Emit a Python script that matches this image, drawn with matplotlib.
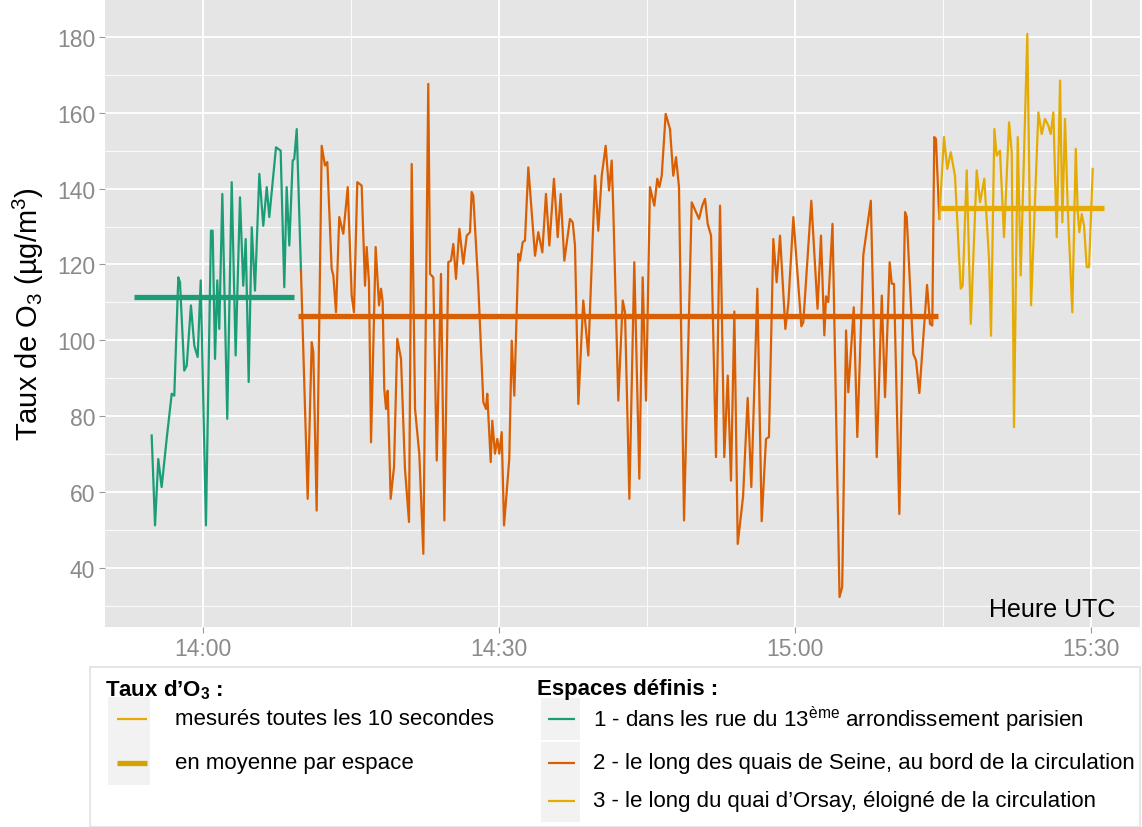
# %% Imports

import numpy as np
import matplotlib
matplotlib.use("Agg")
import matplotlib.pyplot as plt
from matplotlib.lines import Line2D
from matplotlib.patches import Rectangle

plt.rcParams["font.family"] = ["Liberation Sans", "DejaVu Sans"]
plt.rcParams["mathtext.fontset"] = "custom"
plt.rcParams["mathtext.rm"] = "Liberation Sans"
plt.rcParams["mathtext.it"] = "Liberation Sans:italic"
plt.rcParams["mathtext.bf"] = "Liberation Sans:bold"

# %% Data (time = minutes after 14:00 UTC, O3 in µg/m3)

# space 1 - rues du 13eme
t_rue = [-5.20, -4.86, -4.53, -4.19, -3.68, -3.17, -2.91, -2.50, -2.33, -1.90,
         -1.65, -1.22, -0.88, -0.54, -0.23, 0.30, 0.81, 0.98, 1.22, 1.45,
         1.65, 1.96, 2.46, 2.91, 3.31, 3.75, 4.08, 4.33, 4.63, 4.94,
         5.27, 5.71, 6.11, 6.46, 6.72, 7.40, 7.87, 8.24, 8.48, 8.75,
         9.09, 9.25, 9.50, 9.93]
o3_rue = [74.9, 51.2, 68.7, 61.3, 74.0, 85.9, 85.4, 116.6, 115.3, 92.0,
          93.3, 109.2, 98.6, 95.6, 115.8, 51.2, 128.9, 128.9, 95.1, 115.8,
          103.0, 138.6, 79.3, 141.7, 96.0, 137.7, 114.4, 126.7, 89.0, 129.8,
          113.1, 143.9, 130.2, 140.4, 132.5, 150.9, 150.0, 114.0, 140.4, 125.0,
          147.4, 147.8, 155.7, 118.3]

# space 2 - quais de Seine
t_quais = [9.93, 10.61, 11.02, 11.18, 11.52, 12.03, 12.36, 12.60, 13.04, 13.21,
           13.48, 13.81, 14.22, 14.67, 15.07, 15.30, 15.64, 16.08, 16.42, 16.59,
           16.82, 17.03, 17.50, 17.84, 18.04, 18.21, 18.37, 18.55, 18.72, 19.02,
           19.36, 19.69, 20.07, 20.47, 20.88, 21.15, 21.49, 21.92, 22.33, 22.83,
           23.01, 23.34, 23.69, 24.12, 24.46, 24.86, 25.13, 25.37, 25.64, 25.98,
           26.38, 26.73, 27.06, 27.23, 27.39, 27.90, 28.41, 28.68, 28.81, 29.16,
           29.32, 29.59, 29.83, 30.03, 30.27, 30.51, 31.04, 31.29, 31.55, 31.96,
           32.13, 32.40, 32.63, 32.97, 33.65, 33.98, 34.39, 34.76, 35.10, 35.57,
           35.95, 36.25, 36.62, 37.19, 37.47, 37.70, 38.04, 38.54, 39.05, 39.73,
           40.06, 40.41, 40.81, 41.15, 41.42, 41.58, 42.09, 42.54, 42.77, 43.21,
           43.71, 44.22, 44.56, 44.90, 45.30, 45.74, 46.04, 46.25, 46.49, 46.89,
           47.33, 47.66, 47.94, 48.24, 48.75, 49.53, 50.27, 50.60, 50.88, 51.15,
           51.49, 51.99, 52.40, 52.83, 53.18, 53.51, 53.85, 54.19, 54.73, 55.20,
           55.57, 56.18, 56.62, 57.06, 57.36, 57.80, 58.14, 58.48, 59.02, 59.32,
           59.83, 60.64, 60.84, 61.65, 62.28, 62.63, 62.97, 63.14, 63.37, 63.80,
           64.51, 64.78, 65.17, 65.40, 65.95, 66.31, 66.92, 67.68, 68.28, 68.79,
           69.12, 69.59, 69.80, 70.03, 70.57, 71.15, 71.32, 71.99, 72.26, 72.60,
           73.38, 73.68, 73.91, 74.11, 74.28, 74.62]
o3_quais = [118.3, 58.2, 99.5, 96.9, 55.1, 151.3, 146.1, 147.0, 118.8, 117.1,
            107.4, 132.5, 128.1, 140.4, 111.8, 107.4, 141.7, 140.8, 114.4, 124.6,
            115.3, 73.1, 124.6, 109.2, 113.6, 110.1, 87.2, 81.9, 86.7, 58.2,
            66.6, 100.4, 95.1, 66.1, 52.1, 146.5, 81.9, 70.1, 43.7, 167.6,
            117.5, 116.6, 68.3, 117.5, 52.5, 120.6, 121.0, 125.4, 116.2, 129.4,
            120.2, 127.6, 128.5, 139.1, 138.2, 114.4, 83.7, 81.9, 85.9, 67.9,
            78.8, 70.1, 74.0, 70.1, 75.8, 51.2, 68.7, 99.9, 85.4, 122.8,
            121.0, 125.9, 126.3, 145.6, 122.3, 128.5, 123.2, 138.6, 125.0, 142.6,
            127.2, 138.6, 121.0, 132.0, 131.1, 125.0, 83.2, 110.5, 96.0, 143.4,
            128.9, 143.4, 151.3, 139.5, 147.4, 134.7, 84.1, 110.5, 107.4, 58.2,
            120.6, 63.5, 116.6, 84.1, 140.4, 135.5, 142.6, 140.4, 143.4, 159.7,
            155.7, 143.4, 148.3, 140.4, 52.5, 136.4, 132.0, 135.5, 137.3, 130.7,
            127.6, 69.2, 135.5, 69.2, 90.7, 63.0, 107.6, 46.3, 58.7, 84.8,
            61.3, 113.6, 52.3, 74.0, 74.5, 126.7, 115.3, 127.6, 103.0, 109.6,
            132.5, 103.7, 104.8, 136.8, 108.3, 127.6, 101.3, 111.6, 110.1, 130.7,
            32.3, 35.0, 102.6, 86.3, 108.7, 74.5, 122.5, 136.8, 69.2, 111.8,
            85.0, 120.6, 114.9, 114.9, 54.2, 133.8, 132.5, 96.4, 94.7, 86.1,
            114.6, 104.3, 103.9, 153.6, 153.1, 132.0]

# space 3 - quai d'Orsay
t_orsay = [74.62, 75.10, 75.43, 75.78, 76.21, 76.79, 76.99, 77.40, 77.81, 78.41,
           78.75, 79.18, 79.66, 79.86, 80.20, 80.44, 80.77, 81.18, 81.69, 81.96,
           82.19, 82.57, 82.87, 83.54, 83.92, 84.66, 85.00, 85.33, 85.67, 85.91,
           86.18, 86.52, 86.86, 87.09, 87.36, 87.64, 88.10, 88.45, 88.65, 88.81,
           89.06, 89.29, 89.56, 89.80, 89.93, 90.17]
o3_orsay = [132.0, 153.6, 145.2, 149.6, 143.4, 113.6, 114.4, 144.8, 104.3, 144.8,
            136.4, 142.6, 121.5, 101.2, 155.7, 148.7, 150.0, 127.2, 157.5, 149.6,
            77.1, 153.6, 117.1, 180.8, 109.2, 160.1, 154.4, 158.4, 156.6, 154.4,
            160.1, 127.2, 168.5, 131.1, 158.4, 134.7, 107.4, 150.5, 133.8, 128.5,
            133.3, 130.2, 119.3, 119.3, 128.5, 145.2]

# mean per space and time span of each space
mean_o3 = [111.4, 106.5, 134.8]
mean_start = [-7.0, 9.66, 74.7]
mean_end = [9.25, 74.5, 91.3]

colors = ["#1B9E77", "#D95F02", "#E6AB02"]

labels_space = ["1 - dans les rue du 13$^{\\mathrm{ème}}$ arrondissement parisien",
                "2 - le long des quais de Seine, au bord de la circulation",
                "3 - le long du quai d’Orsay, éloigné de la circulation"]
labels_o3 = ["mesurés toutes les 10 secondes", "en moyenne par espace"]

tick_pos = [0, 30, 60, 90]
tick_lab = ["14:00", "14:30", "15:00", "15:30"]

# %% Figure

W, H = 1142, 828
fig = plt.figure(figsize=(W / 100, H / 100), dpi=100)

def fx(x):
    return x / W

def fy(y):
    return 1 - y / H

ax = fig.add_axes([fx(105), fy(628), fx(1140) - fx(105), fy(0) - fy(628)])
ax.set_facecolor("#E5E5E5")
for s in ax.spines.values():
    s.set_visible(False)

series = [(t_rue, o3_rue), (t_quais, o3_quais), (t_orsay, o3_orsay)]
for (t, v), c in zip(series, colors):
    ax.plot(t, v, color=c, lw=1.6, zorder=3)

for m, a, b, c in zip(mean_o3, mean_start, mean_end, colors):
    ax.plot([a, b], [m, m], color=c, lw=3.8, solid_capstyle="butt", zorder=4)

ax.set_xticks(tick_pos)
ax.set_xticklabels(tick_lab)
ax.set_xticks([-15, 15, 45, 75], minor=True)
ax.set_yticks(np.arange(40, 181, 20))
ax.set_yticks(np.arange(30, 191, 20), minor=True)

# limits after ticks, otherwise the minor ticks widen the view
ax.set_xlim(-9.93, 94.96)
ax.set_ylim(24.4, 190)

ax.grid(which="major", color="white", lw=1.3, zorder=0)
ax.grid(which="minor", color="white", lw=0.6, zorder=0)
ax.set_axisbelow(True)

ax.tick_params(which="major", length=4, color="#9A9A9A", labelcolor="#8A8A8A",
               labelsize=16.5, pad=3)
ax.tick_params(which="minor", length=0)

ax.set_ylabel("Taux de O$_3$ (µg/m$^3$)", fontsize=21, color="black", labelpad=8)

ax.text(0.976, 0.028, "Heure UTC", transform=ax.transAxes, ha="right", va="center",
        fontsize=18, color="black")

# %% Legend (drawn by hand, ggplot style)

fig.patches.append(Rectangle((fx(90), fy(828)), fx(1140) - fx(90), fy(668) - fy(828),
                             transform=fig.transFigure, facecolor="white",
                             edgecolor="#E2E2E2", lw=1.2, zorder=0))

fig.text(fx(105), fy(690), "Taux d’O$_{\\mathbf{3}}$ :", fontsize=16, fontweight="bold",
         va="center", ha="left")
fig.text(fx(537), fy(690), "Espaces définis :", fontsize=16, fontweight="bold",
         va="center", ha="left")

key_y = [720, 764, 802]

for i, lab in enumerate(labels_o3):
    y = key_y[i]
    fig.patches.append(Rectangle((fx(108), fy(y + 22)), fx(150) - fx(108), fy(y - 22) - fy(y + 22),
                                 transform=fig.transFigure, facecolor="#F2F2F2",
                                 edgecolor="none"))
    fig.lines.append(Line2D([fx(117), fx(147)], [fy(y), fy(y)], transform=fig.transFigure,
                            color="#E6AB02" if i == 0 else "#D4A300",
                            lw=1.6 if i == 0 else 3.8, solid_capstyle="butt"))
    fig.text(fx(175), fy(y), lab, fontsize=16, va="center", ha="left")

for i, lab in enumerate(labels_space):
    y = key_y[i]
    fig.patches.append(Rectangle((fx(541), fy(y + 21)), fx(580) - fx(541), fy(y - 21) - fy(y + 21),
                                 transform=fig.transFigure, facecolor="#F2F2F2",
                                 edgecolor="none"))
    fig.lines.append(Line2D([fx(548), fx(575)], [fy(y), fy(y)], transform=fig.transFigure,
                            color=colors[i], lw=1.6, solid_capstyle="butt"))
    fig.text(fx(593), fy(y), lab, fontsize=16, va="center", ha="left")

fig.savefig("out.png", dpi=100)
